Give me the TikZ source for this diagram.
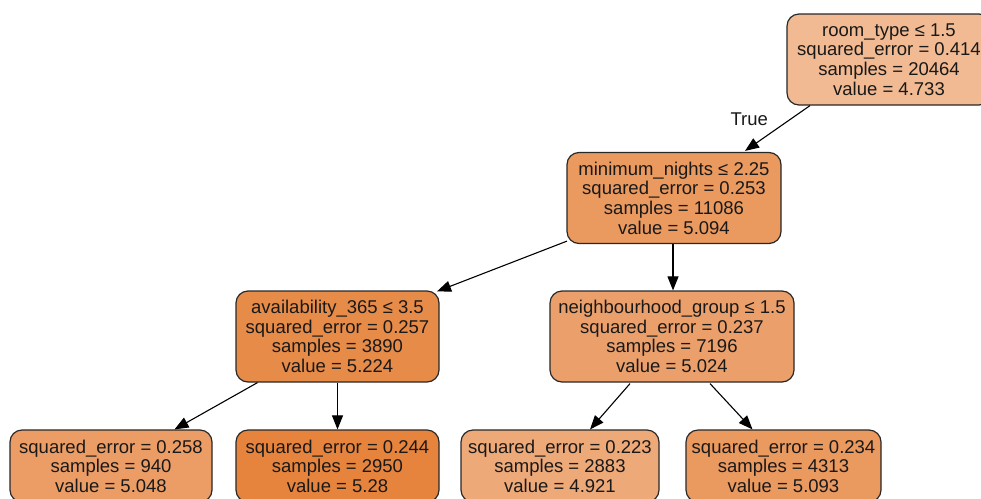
\documentclass[tikz,border=0pt]{standalone}
\usepackage{fontspec}
\setmainfont{Liberation Sans}
\usetikzlibrary{arrows.meta}

\definecolor{treeorange}{RGB}{229,129,57}
\definecolor{edgegray}{RGB}{40,40,40}
\colorlet{fillroot}{treeorange!55!white}
\colorlet{fillA}{treeorange!81!white}
\colorlet{fillB}{treeorange!92!white}
\colorlet{fillC}{treeorange!75!white}
\colorlet{fillD}{treeorange!78!white}
\colorlet{fillE}{treeorange!98!white}
\colorlet{fillF}{treeorange!68!white}
\colorlet{fillG}{treeorange!81!white}

\tikzset{
  treenode/.style={draw=edgegray, line width=1.2pt, rounded corners=12pt,
    align=center, inner sep=0pt, text=black!90,
    font=\fontsize{18.5}{19.6}\selectfont},
  splitnode/.style={treenode, minimum height=91pt},
  leafnode/.style={treenode, minimum height=72pt},
  link/.style={line width=1.1pt, draw=black,
    -{Triangle[length=14pt,width=11pt]}},
  edgelabel/.style={font=\fontsize{18.5}{20}\selectfont, text=black!90,
    inner sep=0pt}
}

\begin{document}
\begin{tikzpicture}[x=1pt, y=-1pt]
\useasboundingbox (0,0) rectangle (981,498);
\clip (0,0) rectangle (981,498);
\fill[white] (0,0) rectangle (981,498);

% split nodes
\node[splitnode, fill=fillroot, minimum width=204pt] (root) at (889,59.5)
  {room\_type ≤ 1.5\\squared\_error = 0.414\\samples = 20464\\value = 4.733};
\node[splitnode, fill=fillA, minimum width=214pt] (n1) at (674,198)
  {minimum\_nights ≤ 2.25\\squared\_error = 0.253\\samples = 11086\\value = 5.094};
\node[splitnode, fill=fillB, minimum width=203pt] (n2) at (337.5,336.5)
  {availability\_365 ≤ 3.5\\squared\_error = 0.257\\samples = 3890\\value = 5.224};
\node[splitnode, fill=fillC, minimum width=244pt] (n3) at (672,336.5)
  {neighbourhood\_group ≤ 1.5\\squared\_error = 0.237\\samples = 7196\\value = 5.024};

% leaves
\node[leafnode, fill=fillD, minimum width=202pt] (l1) at (111,466)
  {squared\_error = 0.258\\samples = 940\\value = 5.048};
\node[leafnode, fill=fillE, minimum width=203pt] (l2) at (337.5,466)
  {squared\_error = 0.244\\samples = 2950\\value = 5.28};
\node[leafnode, fill=fillF, minimum width=198pt] (l3) at (560,466)
  {squared\_error = 0.223\\samples = 2883\\value = 4.921};
\node[leafnode, fill=fillG, minimum width=195pt] (l4) at (783.5,466)
  {squared\_error = 0.234\\samples = 4313\\value = 5.093};

% connectors
\draw[link] ([shift={(-79,0)}]root.south) -- ([shift={(71,-1)}]n1.north)
  node[edgelabel, pos=0.3, anchor=east, xshift=-22pt] (truelbl) {True};
\draw[link] ([shift={(-107,-3)}]n1.south) -- ([shift={(99.5,1)}]n2.north);
\draw[link] ([shift={(-1,0)}]n1.south) -- ([shift={(1,0)}]n3.north);
\draw[link] ([shift={(-80,0)}]n2.south) -- ([shift={(-163,0)}]l2.north);
\draw[link] (n2.south) -- (l2.north);
\draw[link] ([shift={(-42,1)}]n3.south) -- ([shift={(30,0)}]l3.north);
\draw[link] ([shift={(38,1)}]n3.south) -- ([shift={(-31,0)}]l4.north);
\end{tikzpicture}
\end{document}
